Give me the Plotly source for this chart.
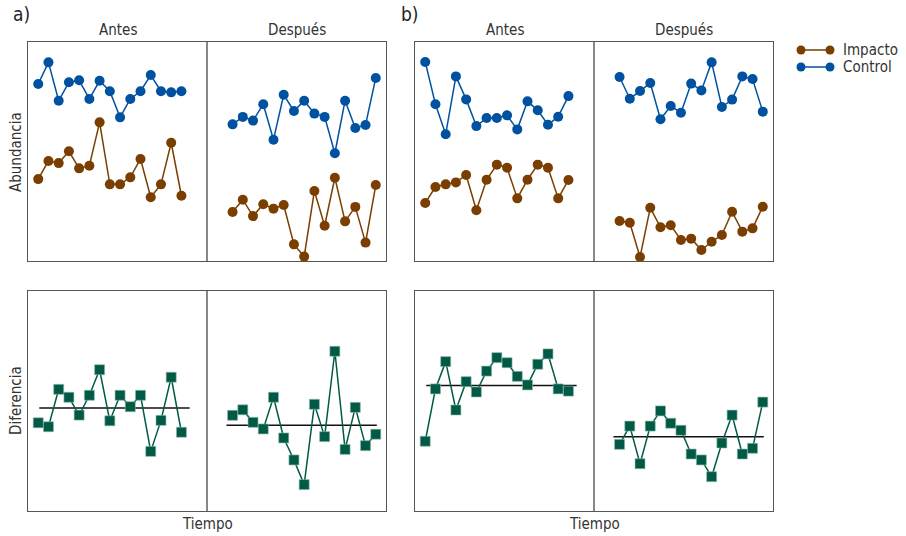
import plotly.graph_objects as go

W, H = 906, 536

# ---------------- data ----------------
tiempo_antes = list(range(1, 16))
tiempo_despues = list(range(20, 35))

# Panel a) abundance
a_control_antes = [80.8, 90.7, 73.2, 81.6, 82.5, 74.0, 82.3, 77.5, 65.6, 74.0, 77.5, 84.9, 77.5, 77.0, 77.5]
a_impacto_antes = [37.4, 45.7, 44.7, 50.1, 42.3, 43.5, 63.3, 35.0, 35.0, 38.2, 46.6, 29.1, 35.0, 54.0, 29.8]
a_control_despues = [62.4, 65.8, 64.1, 71.6, 55.4, 75.9, 68.5, 73.2, 67.3, 65.8, 49.2, 73.2, 60.7, 62.1, 83.6]
a_impacto_despues = [22.4, 28.0, 20.5, 25.9, 23.9, 25.6, 7.6, 2.0, 32.0, 16.1, 38.0, 18.1, 24.7, 8.4, 34.7]

# Panel a) difference
a_dif_antes = [40.1, 38.3, 55.3, 51.7, 43.6, 52.6, 64.2, 41.0, 52.6, 47.4, 52.6, 27.1, 41.2, 60.8, 35.8]
a_dif_despues = [43.5, 46.0, 40.3, 37.3, 51.7, 33.2, 23.2, 12.0, 48.5, 33.8, 72.6, 28.0, 47.1, 29.7, 34.9]
a_media_antes = 46.8
a_media_despues = 39.0

# Panel b) abundance
b_control_antes = [90.9, 71.6, 57.9, 84.3, 73.8, 61.6, 65.3, 65.3, 66.5, 60.1, 72.9, 68.8, 62.2, 65.9, 75.3]
b_impacto_antes = [26.5, 33.8, 35.0, 35.9, 39.3, 23.2, 37.1, 44.0, 42.6, 28.6, 37.1, 44.0, 42.6, 28.6, 37.0]
b_control_despues = [84.0, 74.1, 77.6, 81.3, 64.7, 70.8, 67.7, 81.0, 77.9, 90.7, 70.3, 73.7, 84.3, 83.1, 68.2]
b_impacto_despues = [18.3, 17.5, 1.8, 24.3, 15.4, 16.3, 9.6, 10.2, 5.0, 8.8, 11.9, 22.5, 13.4, 14.9, 24.8]

# Panel b) difference
b_dif_antes = [31.7, 55.5, 67.9, 45.9, 58.8, 54.1, 63.6, 69.7, 67.4, 61.2, 57.3, 66.7, 71.4, 55.5, 54.5]
b_dif_despues = [30.3, 38.6, 21.5, 38.6, 45.5, 39.9, 36.7, 25.9, 23.2, 15.6, 30.9, 43.6, 25.9, 28.5, 49.5]
b_media_antes = 57.1
b_media_despues = 33.8

# mean line extents (time units)
media_antes_x = [1.1, 15.8]
media_despues_x = [19.4, 34.1]

etiquetas_periodo = ["Antes", "Después"]
etiquetas_panel = ["a)", "b)"]
series = ["Impacto", "Control"]

# ---------------- style ----------------
C_IMP = "#7a3e00"
C_CTL = "#0052a0"
C_DIF = "#005a46"
FRAME = "#555555"
TXT = "#333333"
FONT = "Liberation Sans Narrow, DejaVu Sans Condensed, Arial Narrow, sans-serif"

def px_x(p):
    return p / W

def px_y(p):
    return 1 - p / H

fig = go.Figure()

# axes: 1=a top, 2=b top, 3=a bottom, 4=b bottom
dom_x = {1: [28, 386], 2: [415, 773], 3: [28, 386], 4: [415, 773]}
dom_y = {1: [42, 261], 2: [42, 261], 3: [291, 511], 4: [291, 511]}

layout_axes = {}
for i in range(1, 5):
    sx = "" if i == 1 else str(i)
    layout_axes["xaxis" + sx] = dict(
        domain=[px_x(dom_x[i][0]), px_x(dom_x[i][1])], range=[0, 35],
        showgrid=False, zeroline=False, showticklabels=False, ticks="",
        showline=True, mirror=True, linecolor=FRAME, linewidth=1.2,
        anchor="y" + sx, fixedrange=True)
    layout_axes["yaxis" + sx] = dict(
        domain=[px_y(dom_y[i][1]), px_y(dom_y[i][0])], range=[0, 100],
        showgrid=False, zeroline=False, showticklabels=False, ticks="",
        showline=True, mirror=True, linecolor=FRAME, linewidth=1.2,
        anchor="x" + sx, fixedrange=True)

def add_abund(ax, ctl_a, imp_a, ctl_d, imp_d):
    sx = "" if ax == 1 else str(ax)
    for tx, vals, col in [(tiempo_antes, ctl_a, C_CTL), (tiempo_despues, ctl_d, C_CTL),
                          (tiempo_antes, imp_a, C_IMP), (tiempo_despues, imp_d, C_IMP)]:
        fig.add_trace(go.Scatter(
            x=tx, y=vals, mode="lines+markers", xaxis="x" + sx, yaxis="y" + sx,
            line=dict(color=col, width=1.5), marker=dict(color=col, size=10),
            cliponaxis=False, showlegend=False, hoverinfo="skip"))

def add_dif(ax, d_a, d_d, m_a, m_d):
    sx = str(ax)
    for mx, m in [(media_antes_x, m_a), (media_despues_x, m_d)]:
        fig.add_trace(go.Scatter(
            x=mx, y=[m, m], mode="lines", xaxis="x" + sx, yaxis="y" + sx,
            line=dict(color="#111111", width=1.5), showlegend=False, hoverinfo="skip"))
    for tx, vals in [(tiempo_antes, d_a), (tiempo_despues, d_d)]:
        fig.add_trace(go.Scatter(
            x=tx, y=vals, mode="lines+markers", xaxis="x" + sx, yaxis="y" + sx,
            line=dict(color=C_DIF, width=1.5),
            marker=dict(color=C_DIF, size=10, symbol="square",
                        line=dict(color="#8fb8ad", width=0.6)),
            cliponaxis=False, showlegend=False, hoverinfo="skip"))

add_abund(1, a_control_antes, a_impacto_antes, a_control_despues, a_impacto_despues)
add_abund(2, b_control_antes, b_impacto_antes, b_control_despues, b_impacto_despues)
add_dif(3, a_dif_antes, a_dif_despues, a_media_antes, a_media_despues)
add_dif(4, b_dif_antes, b_dif_despues, b_media_antes, b_media_despues)

shapes = []
# dividers between Antes / Después
for i in range(1, 5):
    sx = "" if i == 1 else str(i)
    shapes.append(dict(type="line", xref="x" + sx, yref="y" + sx + " domain",
                       x0=17.5, x1=17.5, y0=0, y1=1,
                       line=dict(color="#111111", width=1)))

annotations = []
# period headers
for left in [28, 415]:
    for k, lab in enumerate(etiquetas_periodo):
        cx = left + 179 * k + 89.5
        annotations.append(dict(text=lab, x=px_x(cx), y=px_y(30), xref="paper", yref="paper",
                                showarrow=False, font=dict(size=15, color=TXT, family=FONT),
                                xanchor="center", yanchor="middle"))
# panel labels
for lab, x in zip(etiquetas_panel, [11, 399]):
    annotations.append(dict(text=lab, x=px_x(x), y=px_y(14), xref="paper", yref="paper",
                            showarrow=False, font=dict(size=19, color="#222222", family=FONT),
                            xanchor="left", yanchor="middle"))
# axis titles
annotations.append(dict(text="Abundancia", x=px_x(16), y=px_y(152), xref="paper", yref="paper",
                        showarrow=False, textangle=-90, font=dict(size=15, color=TXT, family=FONT),
                        xanchor="center", yanchor="middle"))
annotations.append(dict(text="Diferencia", x=px_x(16), y=px_y(401), xref="paper", yref="paper",
                        showarrow=False, textangle=-90, font=dict(size=15, color=TXT, family=FONT),
                        xanchor="center", yanchor="middle"))
for cx in [207, 594]:
    annotations.append(dict(text="Tiempo", x=px_x(cx), y=px_y(524), xref="paper", yref="paper",
                            showarrow=False, font=dict(size=15, color=TXT, family=FONT),
                            xanchor="center", yanchor="middle"))

# custom legend (line with a dot at each end)
for k, (name, col) in enumerate(zip(series, [C_IMP, C_CTL])):
    yy = 50 + 17 * k
    shapes.append(dict(type="line", xref="paper", yref="paper",
                       x0=px_x(801), x1=px_x(830), y0=px_y(yy), y1=px_y(yy),
                       line=dict(color=col, width=1.5)))
    for cx in [801, 830]:
        shapes.append(dict(type="circle", xref="paper", yref="paper",
                           x0=px_x(cx - 4.5), x1=px_x(cx + 4.5),
                           y0=px_y(yy + 4.5), y1=px_y(yy - 4.5),
                           fillcolor=col, line=dict(color=col, width=0)))
    annotations.append(dict(text=name, x=px_x(841), y=px_y(yy), xref="paper", yref="paper",
                            showarrow=False, font=dict(size=15, color=TXT, family=FONT),
                            xanchor="left", yanchor="middle"))

fig.update_layout(
    width=W, height=H, margin=dict(l=0, r=0, t=0, b=0),
    paper_bgcolor="white", plot_bgcolor="white",
    shapes=shapes, annotations=annotations, showlegend=False,
    **layout_axes)

fig.write_html("out.html", config={"displayModeBar": False},
               post_script="document.body.style.margin='0';document.body.style.overflow='hidden';")
